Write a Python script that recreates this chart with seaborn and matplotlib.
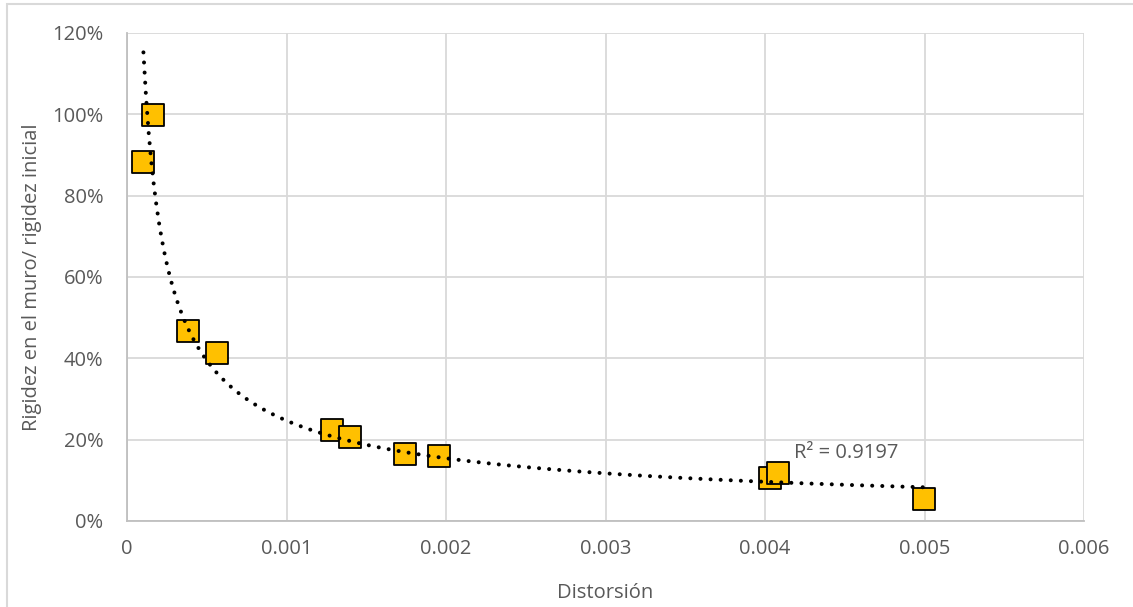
import numpy as np
import pandas as pd
import matplotlib
matplotlib.use("Agg")
import matplotlib.pyplot as plt
from matplotlib.patches import Rectangle
from matplotlib.ticker import FuncFormatter
import seaborn as sns

# Measured wall stiffness ratio versus drift
distorsion = [0.000103, 0.000163, 0.000382, 0.000564, 0.001285, 0.001398,
              0.001743, 0.001956, 0.004030, 0.004080, 0.004997]
rigidez = [0.883, 0.998, 0.467, 0.413, 0.224, 0.207,
           0.165, 0.160, 0.106, 0.118, 0.053]
r2_label = "R² = 0.9197"

x_ticks = [0, 0.001, 0.002, 0.003, 0.004, 0.005, 0.006]
x_tick_labels = ["0", "0.001", "0.002", "0.003", "0.004", "0.005", "0.006"]
y_ticks = [0, 0.2, 0.4, 0.6, 0.8, 1.0, 1.2]

df = pd.DataFrame({"Distorsión": distorsion, "Rigidez": rigidez})

# Power-law trendline y = a * x^b, fitted in log space
b, log_a = np.polyfit(np.log(df["Distorsión"]), np.log(df["Rigidez"]), 1)
x_fit = np.linspace(df["Distorsión"].min(), df["Distorsión"].max(), 300)
trend = pd.DataFrame({"x": x_fit, "y": np.exp(log_a) * x_fit ** b})

sns.set_theme(style="white")
plt.rcParams["font.family"] = ["Open Sans", "DejaVu Sans"]

text_color = "#595959"
grid_color = "#D9D9D9"
fs = 14.5

fig = plt.figure(figsize=(11.33, 6.07), dpi=100)
ax = fig.add_axes([127 / 1133, 1 - 521 / 607, (1084 - 127) / 1133, (521 - 33) / 607])

# Chart-area frame
fig.patches.append(Rectangle((7 / 1133, -0.05), 1.2, 1 - 4 / 607 + 0.05,
                             transform=fig.transFigure, fill=False,
                             edgecolor=grid_color, linewidth=1.5, zorder=0))

sns.lineplot(data=trend, x="x", y="y", ax=ax, color="black", linewidth=2.9,
             linestyle=(0, (0.01, 2.5)), dash_capstyle="round", zorder=3,
             sort=True, estimator=None)
sns.scatterplot(data=df, x="Distorsión", y="Rigidez", ax=ax, marker="s",
                s=250, color="#FFC000", edgecolor="black", linewidth=1.3,
                zorder=2)

ax.set_xlim(0, 0.006)
ax.set_ylim(0, 1.2)
ax.set_xticks(x_ticks)
ax.set_xticklabels(x_tick_labels)
ax.set_yticks(y_ticks)
ax.yaxis.set_major_formatter(FuncFormatter(lambda v, _: f"{v * 100:.0f}%"))

ax.grid(True, color=grid_color, linewidth=1.3)
ax.set_axisbelow(True)
for side in ["top", "right"]:
    ax.spines[side].set_visible(False)
for side in ["left", "bottom"]:
    ax.spines[side].set_color("#BFBFBF")
    ax.spines[side].set_linewidth(1.3)

ax.tick_params(axis="both", length=0, labelsize=fs, labelcolor=text_color)
ax.tick_params(axis="x", pad=13)
ax.tick_params(axis="y", pad=17)

ax.set_xlabel("Distorsión", fontsize=fs, color=text_color, labelpad=17)
ax.set_ylabel("Rigidez en el muro/ rigidez inicial", fontsize=fs,
              color=text_color, labelpad=7)

ax.text(0.00418, 0.168, r2_label, fontsize=fs, color=text_color,
        ha="left", va="center")

fig.savefig("out.png", dpi=100)
